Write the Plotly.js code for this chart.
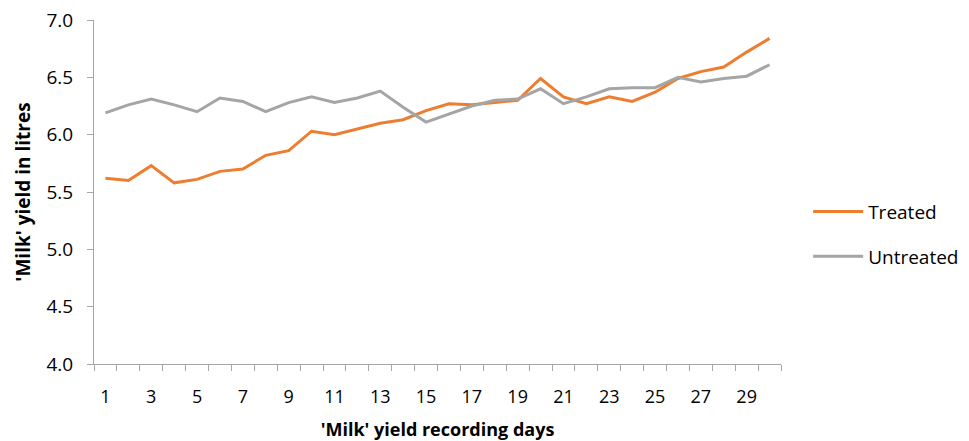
<!DOCTYPE html>
<html>
<head>
<meta charset="utf-8">
<script src="https://cdn.plot.ly/plotly-3.0.1.min.js"></script>
<style>html,body{margin:0;padding:0;background:#fff;} #chart{width:969px;height:441px;}</style>
</head>
<body>
<div id="chart"></div>
<script>
const days = ["1","2","3","4","5","6","7","8","9","10","11","12","13","14","15","16","17","18","19","20","21","22","23","24","25","26","27","28","29","30"];
const treated = [5.62,5.60,5.73,5.58,5.61,5.68,5.70,5.82,5.86,6.03,6.00,6.05,6.10,6.13,6.21,6.27,6.26,6.28,6.30,6.49,6.33,6.27,6.33,6.29,6.37,6.49,6.55,6.59,6.72,6.84];
const untreated = [6.19,6.26,6.31,6.26,6.20,6.32,6.29,6.20,6.28,6.33,6.28,6.32,6.38,6.24,6.11,6.18,6.25,6.30,6.31,6.40,6.27,6.33,6.40,6.41,6.41,6.50,6.46,6.49,6.51,6.61];
const seriesNames = ["Treated","Untreated"];
const yTickVals = [4.0,4.5,5.0,5.5,6.0,6.5,7.0];

const font = "Open Sans, Liberation Sans, sans-serif";
const traces = [
  {x: days, y: treated, name: seriesNames[0], type: "scatter", mode: "lines",
   line: {color: "#ED7D31", width: 3}, legendgroup: "a"},
  {x: days, y: untreated, name: seriesNames[1], type: "scatter", mode: "lines",
   line: {color: "#A5A5A5", width: 3}, legendgroup: "b"}
];
const layout = {
  width: 969, height: 441,
  margin: {l: 94, r: 188, t: 20, b: 77},
  paper_bgcolor: "#fff", plot_bgcolor: "#fff",
  font: {family: font, color: "#000", size: 16},
  showlegend: true,
  legend: {xref: "container", yref: "container", x: 0.834, y: 0.563,
           xanchor: "left", yanchor: "top", tracegroupgap: 17,
           font: {size: 19, family: font, color: "#000"}, itemwidth: 50},
  xaxis: {
    type: "category", categoryorder: "array", categoryarray: days,
    range: [-0.5, days.length - 0.5], autorange: false,
    tickson: "boundaries", ticks: "outside", ticklen: 6, tickcolor: "#A6A6A6",
    ticklabelstep: 2, tickangle: 0, ticklabelstandoff: 16,
    showline: true, linecolor: "#A6A6A6", linewidth: 1,
    showgrid: false, zeroline: false,
    tickfont: {size: 18, family: font},
    title: {text: "<b>'Milk' yield recording days</b>", font: {size: 18, family: font}, standoff: 18}
  },
  yaxis: {
    range: [4, 7], tickvals: yTickVals, tickformat: ".1f",
    ticks: "outside", ticklen: 6, tickcolor: "#A6A6A6", ticklabelstandoff: 10,
    showline: true, linecolor: "#A6A6A6", linewidth: 1,
    showgrid: false, zeroline: false,
    tickfont: {size: 19, family: font},
    title: {text: "<b>'Milk' yield in litres</b>", font: {size: 19, family: font}, standoff: 10}
  }
};
Plotly.newPlot("chart", traces, layout, {displayModeBar: false, staticPlot: true});
</script>
</body>
</html>
